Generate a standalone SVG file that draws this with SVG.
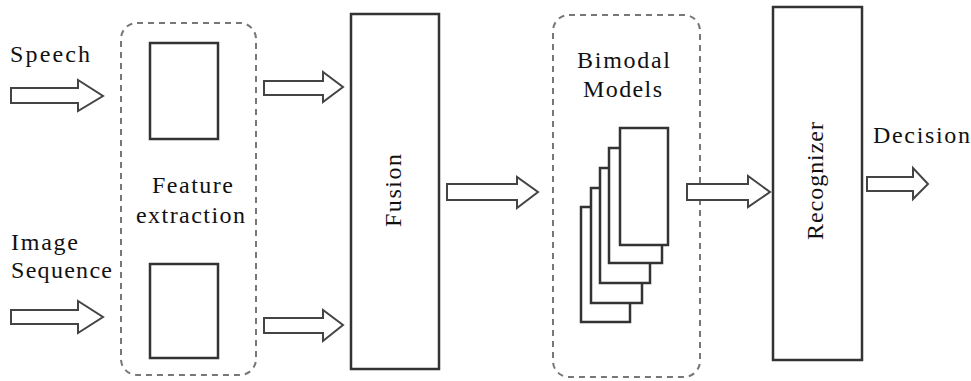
<svg xmlns="http://www.w3.org/2000/svg" width="971" height="381" viewBox="0 0 971 381">
  <style>
    text { font-family: 'Liberation Serif', 'DejaVu Serif', serif; font-size: 24px; fill: #111; }
    .box { fill: #fff; stroke: #333; stroke-width: 2.5; }
    .group { fill: none; stroke: #777; stroke-width: 2; stroke-dasharray: 6 5; }
    .arrow { fill: #fff; stroke: #444; stroke-width: 2; stroke-linejoin: miter; }
  </style>
  <rect width="971" height="381" fill="#fff"/>

  <!-- inputs -->
  <g id="speech" font-family="Liberation Serif, DejaVu Serif, serif">
    <text x="10" y="62" textLength="80" lengthAdjust="spacing">Speech</text>
  </g>
  <g id="image-sequence" font-family="Liberation Serif, DejaVu Serif, serif">
    <text x="11" y="250" textLength="67" lengthAdjust="spacing">Image</text>
    <text x="11" y="278" textLength="101" lengthAdjust="spacing">Sequence</text>
  </g>

  <!-- feature extraction stage -->
  <g id="feature-extraction" font-family="Liberation Serif, DejaVu Serif, serif">
    <rect class="group" x="121" y="23" width="135" height="352" rx="16"/>
    <rect class="box" x="150" y="43" width="68" height="96"/>
    <rect class="box" x="150" y="264" width="68" height="94"/>
    <text x="152" y="193" textLength="81" lengthAdjust="spacing">Feature</text>
    <text x="136" y="223" textLength="109" lengthAdjust="spacing">extraction</text>
  </g>

  <!-- fusion -->
  <g id="fusion" font-family="Liberation Serif, DejaVu Serif, serif">
    <rect class="box" x="351" y="14" width="88" height="355"/>
    <text transform="translate(401 227) rotate(-90)" x="0" y="0" textLength="73" lengthAdjust="spacing">Fusion</text>
  </g>

  <!-- bimodal models -->
  <g id="bimodal-models" font-family="Liberation Serif, DejaVu Serif, serif">
    <rect class="group" x="553" y="15" width="147" height="362" rx="16"/>
    <text x="577" y="68" textLength="93" lengthAdjust="spacing">Bimodal</text>
    <text x="583" y="97" textLength="79" lengthAdjust="spacing">Models</text>
    <rect class="box" x="581" y="207" width="49" height="115"/>
    <rect class="box" x="591" y="188" width="51" height="115"/>
    <rect class="box" x="600" y="168" width="50" height="115"/>
    <rect class="box" x="609" y="148" width="53" height="115"/>
    <rect class="box" x="620" y="128" width="48" height="117"/>
  </g>

  <!-- recognizer -->
  <g id="recognizer" font-family="Liberation Serif, DejaVu Serif, serif">
    <rect class="box" x="773" y="7" width="89" height="353"/>
    <text transform="translate(823 240) rotate(-90)" x="0" y="0" textLength="118" lengthAdjust="spacing">Recognizer</text>
  </g>

  <g id="decision" font-family="Liberation Serif, DejaVu Serif, serif">
    <text x="873" y="143" textLength="97" lengthAdjust="spacing">Decision</text>
  </g>

  <!-- block arrows -->
  <g id="connectors">
    <path class="arrow" d="M11,88 H78 V80 L103,96 L78,111 V103 H11 Z"/>
    <path class="arrow" d="M11,310 H78 V301 L103,317 L78,333 V324 H11 Z"/>
    <path class="arrow" d="M264,81 H323 V72 L343,87 L323,102 V95 H264 Z"/>
    <path class="arrow" d="M264,318 H323 V310 L343,325 L323,341 V333 H264 Z"/>
    <path class="arrow" d="M447,184 H517 V177 L538,192 L517,208 V200 H447 Z"/>
    <path class="arrow" d="M687,184 H748 V176 L770,192 L748,207 V200 H687 Z"/>
    <path class="arrow" d="M867,177 H913 V168 L928,184 L913,199 V191 H867 Z"/>
  </g>
</svg>
